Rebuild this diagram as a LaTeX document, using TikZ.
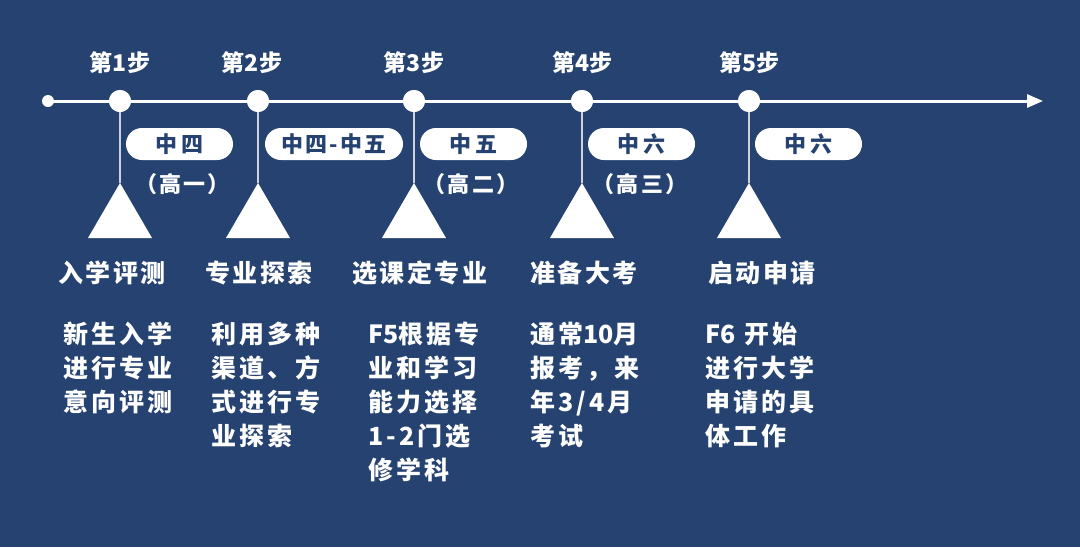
\documentclass[tikz,border=0pt]{standalone}
\usepackage{fontspec}
\setmainfont{Noto Sans CJK SC}
\newfontfamily\cjkls{Noto Sans CJK SC}[LetterSpace=10]
\newfontfamily\cjkdesc{Noto Sans CJK SC}[LetterSpace=12]
\newfontfamily\cjkpill{Noto Sans CJK SC}[LetterSpace=22]
\newcommand\tightnum[1]{{\fontspec{Noto Sans CJK SC}[LetterSpace=0]\bfseries #1}}
\usetikzlibrary{arrows.meta}
\definecolor{bgblue}{RGB}{37,66,112}
\definecolor{stemgray}{RGB}{205,210,220}
\tikzset{
  mainline/.style={draw=white, line width=3pt, -{Triangle[length=16pt,width=13pt]}},
  stepdot/.style={circle, fill=white, minimum size=22pt, inner sep=0pt},
  startdot/.style={circle, fill=white, minimum size=12pt, inner sep=0pt},
  stem/.style={draw=stemgray, line width=1.6pt},
  tri/.style={fill=white},
  pill/.style={fill=white, rounded corners=16pt, minimum height=32pt, inner sep=0pt, text=bgblue, font=\cjkpill\bfseries\fontsize{22}{26}\selectfont},
  steplabel/.style={text=white, anchor=base, inner sep=0pt, font=\bfseries\fontsize{23}{27}\selectfont},
  sublabel/.style={text=white, anchor=base, inner sep=0pt, font=\cjkls\bfseries\fontsize{22}{26}\selectfont},
  titlelabel/.style={text=white, anchor=base west, inner sep=0pt, font=\cjkls\bfseries\fontsize{25}{29}\selectfont},
  desc/.style={text=white, anchor=north west, inner sep=0pt, align=left, font=\cjkdesc\bfseries\fontsize{25}{34}\selectfont},
}
\begin{document}
\begin{tikzpicture}[x=1pt,y=-1pt]
\fill[bgblue] (0,0) rectangle (1080,547);
\useasboundingbox (0,0) rectangle (1080,547);

% main timeline
\node[startdot] (s0) at (48,101) {};
\coordinate (tend) at (1043,101);
\draw[mainline] (s0.center) -- (tend);

% step circles, stems and triangles
\foreach \i/\x in {1/120,2/258,3/414,4/582,5/749}{
  \node[stepdot] (c\i) at (\x,101) {};
  \coordinate (a\i) at (\x,183);
  \draw[stem] (c\i.center) -- (a\i);
  \fill[tri] (a\i) -- (\x-32,238) -- (\x+32,238) -- cycle;
  \node[stepdot] at (\x,101) {};
}

% step labels
\node[steplabel] (l1) at (120,71) {第1步};
\node[steplabel] (l2) at (252,71) {第2步};
\node[steplabel] (l3) at (414,71) {第3步};
\node[steplabel] (l4) at (582,71) {第4步};
\node[steplabel] (l5) at (749,71) {第5步};

% pills
\node[pill, minimum width=107pt] (p1) at (179.5,144) {中四};
\node[pill, minimum width=138pt, font=\cjkls\bfseries\fontsize{22}{26}\selectfont] (p2) at (334,144) {中四-中五};
\node[pill, minimum width=107pt] (p3) at (473.5,144) {中五};
\node[pill, minimum width=107pt] (p4) at (641.5,144) {中六};
\node[pill, minimum width=107pt] (p5) at (808.5,144) {中六};

% sub labels
\node[sublabel] (g1) at (182.5,192) {（高一）};
\node[sublabel] (g3) at (471,192) {（高二）};
\node[sublabel] (g4) at (640,192) {（高三）};

% titles
\node[titlelabel] (t1) at (58,282) {入学评测};
\node[titlelabel] (t2) at (205,282) {专业探索};
\node[titlelabel] (t3) at (352,282) {选课定专业};
\node[titlelabel] (t4) at (530,282) {准备大考};
\node[titlelabel] (t5) at (708,282) {启动申请};

% descriptions
\node[desc] (d1) at (63,322) {新生入学\\进行专业\\意向评测};
\node[desc] (d2) at (211,322) {利用多种\\渠道、方\\式进行专\\业探索};
\node[desc] (d3) at (368,322) {\tightnum{F5}根据专\\业和学习\\能力选择\\1-2门选\\修学科};
\node[desc] (d4) at (530,322) {通常\tightnum{10}月\\报考，来\\年3/4月\\考试};
\node[desc] (d5) at (705,322) {\tightnum{F6} 开始\\进行大学\\申请的具\\体工作};
\end{tikzpicture}
\end{document}
